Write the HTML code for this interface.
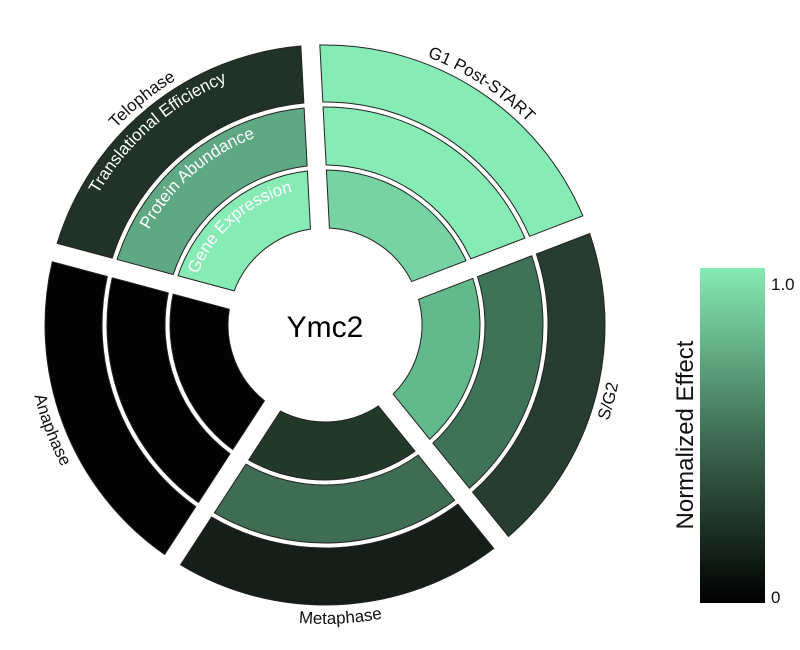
<!DOCTYPE html>
<html><head><meta charset="utf-8"><style>
html,body{margin:0;padding:0;background:#fff;width:800px;height:650px;overflow:hidden}
svg{display:block}
text{font-family:"Liberation Sans",sans-serif}
</style></head><body>
<svg id="s" width="800" height="650" viewBox="0 0 800 650">
<defs>
<linearGradient id="cb" x1="0" y1="0" x2="0" y2="1">
<stop offset="0" stop-color="#86ebb5"/><stop offset="0.5" stop-color="#3f6d54"/><stop offset="1" stop-color="#000"/>
</linearGradient>
</defs>
<g id="sec"></g>
<g id="paths"></g>
<text x="325" y="337" font-size="30" text-anchor="middle" fill="#000">Ymc2</text>
<text font-size="17" fill="#fff"><textPath href="#tGE" startOffset="50%" text-anchor="middle">Gene Expression</textPath></text>
<text font-size="17" fill="#fff"><textPath href="#tPA" startOffset="50%" text-anchor="middle">Protein Abundance</textPath></text>
<text font-size="17" fill="#fff"><textPath href="#tTE" startOffset="50%" text-anchor="middle">Translational Efficiency</textPath></text>
<text font-size="17" fill="#111"><textPath href="#pTel" startOffset="50%" text-anchor="middle">Telophase</textPath></text>
<text font-size="17" fill="#111"><textPath href="#pG1" startOffset="50%" text-anchor="middle">G1 Post-START</textPath></text>
<text font-size="17" fill="#111"><textPath href="#pSG" startOffset="50%" text-anchor="middle">S/G2</textPath></text>
<text font-size="17" fill="#111"><textPath href="#pMet" startOffset="50%" text-anchor="middle">Metaphase</textPath></text>
<text font-size="17" fill="#111"><textPath href="#pAna" startOffset="50%" text-anchor="middle">Anaphase</textPath></text>
<rect x="700" y="268" width="65" height="335" fill="url(#cb)"/>
<text x="771" y="290" font-size="17" fill="#111">1.0</text>
<text x="771" y="603" font-size="17" fill="#111">0</text>
<text transform="translate(693,435) rotate(-90)" font-size="24" text-anchor="middle" fill="#111">Normalized Effect</text>
</svg>
<script>
var cx=325,cy=325,g=9.5,R=-3;
function P(r,d){var a=(d+R)*Math.PI/180;return [cx+r*Math.sin(a),cy-r*Math.cos(a)];}
function f(p){return p[0].toFixed(2)+","+p[1].toFixed(2);}
var rings=[[97,155],[160,218],[223,280]];
var phases=[[0,["#77d3a3","#86ebb5","#86ebb5"]],[72,["#62b98b","#3e7357","#273d31"]],[144,["#223829","#3f6d54","#161e19"]],[216,["#030303","#030303","#030303"]],[288,["#86ebb5","#5ea884","#213329"]]];
var h="";
phases.forEach(function(ph){
 var s=ph[0],e=s+72;
 rings.forEach(function(rg,i){
  var r0=rg[0],r1=rg[1];
  var o0=Math.asin(g/r0)*180/Math.PI,o1=Math.asin(g/r1)*180/Math.PI;
  var a=P(r1,s+o1),b=P(r1,e-o1),c=P(r0,e-o0),d=P(r0,s+o0);
  h+='<path d="M'+f(a)+' A'+r1+','+r1+' 0 0 1 '+f(b)+' L'+f(c)+' A'+r0+','+r0+' 0 0 0 '+f(d)+' Z" fill="'+ph[1][i]+'" stroke="#222" stroke-width="1"/>';
 });
});
document.getElementById("sec").innerHTML=h;
function arc(id,r,a0,a1,cw){var p=cw?P(r,a0):P(r,a1),q=cw?P(r,a1):P(r,a0);return '<path id="'+id+'" d="M'+f(p)+' A'+r+','+r+' 0 0 '+(cw?1:0)+' '+f(q)+'" fill="none"/>';}
var t="";
t+=arc("tGE",137,270,374,true);
t+=arc("tPA",200,270,374,true);
t+=arc("tTE",262,270,374,true);
t+=arc("pTel",287,274,374,true);
t+=arc("pG1",287,-14,86,true);
t+=arc("pSG",299,58,158,false);
t+=arc("pMet",299,130,230,false);
t+=arc("pAna",299,202,302,false);
document.getElementById("paths").innerHTML=t;
</script>
</body></html>
